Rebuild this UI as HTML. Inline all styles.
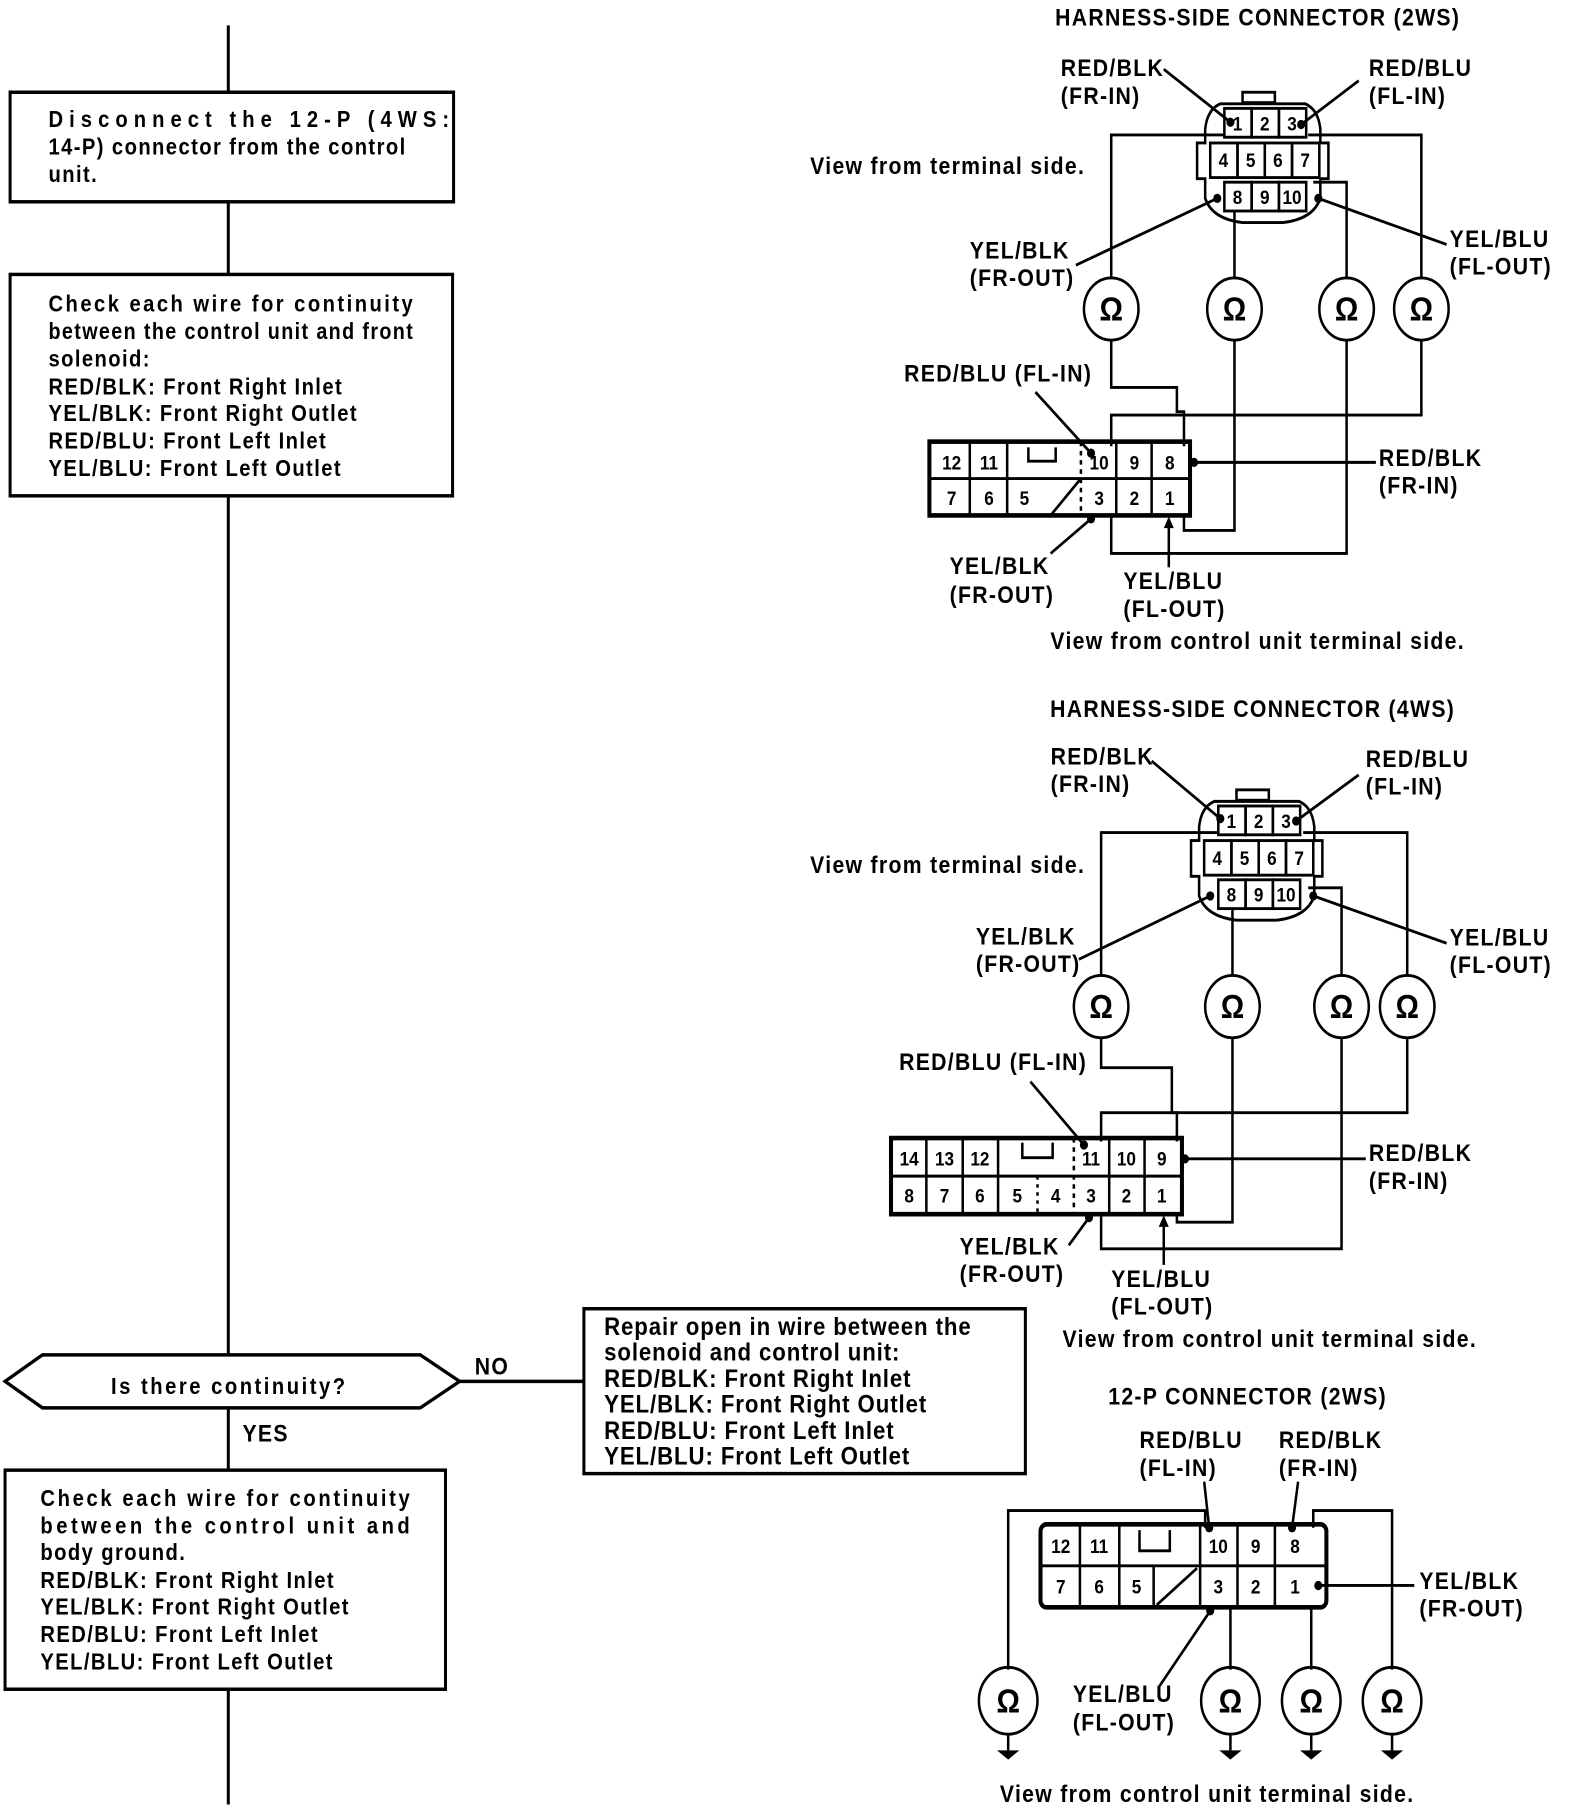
<!DOCTYPE html>
<html><head><meta charset="utf-8"><style>
html,body{margin:0;padding:0;background:#fff;}
svg{display:block;}
text{font-family:"Liberation Sans",sans-serif;font-weight:bold;fill:#000;}
.l{font-size:21px;letter-spacing:1.3px;}
.f{font-size:20px;letter-spacing:1.4px;}
.r{font-size:22px;letter-spacing:0.9px;}
.n{font-size:17px;text-anchor:middle;}
.o{font-size:29px;text-anchor:middle;}
</style></head><body>
<svg width="1584" height="1808" viewBox="0 0 1568 1568" preserveAspectRatio="none" xmlns="http://www.w3.org/2000/svg">
<g fill="none" stroke="#000" stroke-width="3">
<line x1="226" y1="22" x2="226" y2="80"/>
<rect x="10" y="80" width="439" height="95"/>
<line x1="226" y1="175" x2="226" y2="238"/>
<rect x="10" y="238" width="438" height="192"/>
<line x1="226" y1="430" x2="226" y2="1175"/>
<polygon points="5,1198 42,1175 416,1175 455,1198 416,1221 42,1221"/>
<line x1="455" y1="1198" x2="578" y2="1198"/>
<rect x="578" y="1135" width="437" height="143"/>
<line x1="226" y1="1221" x2="226" y2="1275"/>
<rect x="5" y="1275" width="436" height="190"/>
<line x1="226" y1="1465" x2="226" y2="1565"/>
</g>
<text class="f" x="48" y="110" textLength="398" lengthAdjust="spacing">Disconnect the 12-P (4WS:</text>
<text class="f" x="48" y="134">14-P) connector from the control</text>
<text class="f" x="48" y="158">unit.</text>
<text class="f" x="48" y="270" textLength="362" lengthAdjust="spacing">Check each wire for continuity</text>
<text class="f" x="48" y="294" textLength="362" lengthAdjust="spacingAndGlyphs">between the control unit and front</text>
<text class="f" x="48" y="318">solenoid:</text>
<text class="f" x="48" y="342">RED/BLK: Front Right Inlet</text>
<text class="f" x="48" y="365">YEL/BLK: Front Right Outlet</text>
<text class="f" x="48" y="389">RED/BLU: Front Left Inlet</text>
<text class="f" x="48" y="413">YEL/BLU: Front Left Outlet</text>
<text class="f" x="227" y="1209" text-anchor="middle" style="letter-spacing:2.5px">Is there continuity?</text>
<text class="l" x="470" y="1192">NO</text>
<text class="l" x="240" y="1250">YES</text>
<text class="r" x="598" y="1158">Repair open in wire between the</text>
<text class="r" x="598" y="1180">solenoid and control unit:</text>
<text class="r" x="598" y="1203">RED/BLK: Front Right Inlet</text>
<text class="r" x="598" y="1225">YEL/BLK: Front Right Outlet</text>
<text class="r" x="598" y="1248">RED/BLU: Front Left Inlet</text>
<text class="r" x="598" y="1270">YEL/BLU: Front Left Outlet</text>
<text class="f" x="40" y="1306" textLength="367" lengthAdjust="spacing">Check each wire for continuity</text>
<text class="f" x="40" y="1330" textLength="367" lengthAdjust="spacing">between the control unit and</text>
<text class="f" x="40" y="1353">body ground.</text>
<text class="f" x="40" y="1377">RED/BLK: Front Right Inlet</text>
<text class="f" x="40" y="1400">YEL/BLK: Front Right Outlet</text>
<text class="f" x="40" y="1424">RED/BLU: Front Left Inlet</text>
<text class="f" x="40" y="1448">YEL/BLU: Front Left Outlet</text>

<defs>
<g id="hc" fill="none" stroke="#000" stroke-width="2.5">
<rect x="1230" y="80" width="32" height="9"/>
<path d="M1208,90 Q1195,95 1193,112 L1193,124 L1185,124 L1185,155 L1193,155 L1193,172 Q1200,190 1230,193 L1270,193 Q1300,190 1307,172 L1307,155 L1315,155 L1315,124 L1307,124 L1307,112 Q1305,95 1292,90 Z"/>
<rect x="1212" y="94" width="27" height="25"/><rect x="1239" y="94" width="27" height="25"/><rect x="1266" y="94" width="27" height="25"/>
<rect x="1198" y="124" width="27" height="30"/><rect x="1225" y="124" width="27" height="30"/><rect x="1252" y="124" width="27" height="30"/><rect x="1279" y="124" width="27" height="30"/>
<rect x="1212" y="158" width="27" height="25"/><rect x="1239" y="158" width="27" height="25"/><rect x="1266" y="158" width="27" height="25"/>
</g>
</defs>

<!-- Diagram 1 -->
<text class="l" x="1245" y="22" text-anchor="middle">HARNESS-SIDE CONNECTOR (2WS)</text>
<use href="#hc"/>
<text class="n" x="1225" y="113">1</text><text class="n" x="1252" y="113">2</text><text class="n" x="1279" y="113">3</text>
<text class="n" x="1211" y="145">4</text><text class="n" x="1238" y="145">5</text><text class="n" x="1265" y="145">6</text><text class="n" x="1292" y="145">7</text>
<text class="n" x="1225" y="177">8</text><text class="n" x="1252" y="177">9</text><text class="n" x="1279" y="177">10</text>
<text class="l" x="1050" y="66">RED/BLK</text><text class="l" x="1050" y="90">(FR-IN)</text>
<text class="l" x="1355" y="66">RED/BLU</text><text class="l" x="1355" y="90">(FL-IN)</text>
<text class="l" x="802" y="151">View from terminal side.</text>
<text class="l" x="960" y="224">YEL/BLK</text><text class="l" x="960" y="248">(FR-OUT)</text>
<text class="l" x="1435" y="214">YEL/BLU</text><text class="l" x="1435" y="238">(FL-OUT)</text>
<g fill="none" stroke="#000" stroke-width="2.5">
<line x1="1152" y1="60" x2="1218" y2="106"/>
<line x1="1345" y1="70" x2="1288" y2="108"/>
<line x1="1065" y1="230" x2="1205" y2="172"/>
<line x1="1432" y1="212" x2="1305" y2="172"/>
<polyline points="1212,117 1100,117 1100,241"/>
<line x1="1222" y1="183" x2="1222" y2="241"/>
<polyline points="1300,158 1333,158 1333,241"/>
<polyline points="1295,117 1407,117 1407,241"/>
<circle cx="1100" cy="268" r="27"/><circle cx="1222" cy="268" r="27"/><circle cx="1333" cy="268" r="27"/><circle cx="1407" cy="268" r="27"/>
<polyline points="1100,295 1100,336 1165,336 1165,357 1172,357 1172,387"/>
<polyline points="1222,295 1222,460 1172,460 1172,447"/>
<polyline points="1333,295 1333,480 1100,480 1100,447"/>
<polyline points="1407,295 1407,360 1100,360 1100,387"/>
<rect x="920" y="383" width="258" height="64" stroke-width="4"/>
<line x1="920" y1="415" x2="1178" y2="415"/>
<line x1="960" y1="383" x2="960" y2="447"/><line x1="997" y1="383" x2="997" y2="447"/>
<line x1="1070" y1="383" x2="1070" y2="447" stroke-dasharray="4,4"/>
<line x1="1105" y1="383" x2="1105" y2="447"/><line x1="1140" y1="383" x2="1140" y2="447"/>
<line x1="1040" y1="447" x2="1070" y2="415"/>
<polyline points="1018,388 1018,400 1045,400 1045,388"/>
<line x1="1025" y1="340" x2="1080" y2="393"/>
<line x1="1362" y1="401" x2="1182" y2="401"/>
<line x1="1040" y1="480" x2="1080" y2="450"/>
<line x1="1157" y1="492" x2="1157" y2="450"/>
</g>
<g fill="#000">
<circle cx="1218" cy="106" r="4"/><circle cx="1288" cy="108" r="4"/><circle cx="1205" cy="172" r="4"/><circle cx="1305" cy="172" r="4"/>
<circle cx="1080" cy="393" r="4"/><circle cx="1182" cy="401" r="4"/><circle cx="1080" cy="450" r="4"/><path d="M1152,458 l5,-10 l5,10 z"/>
</g>
<text class="n" x="942" y="407">12</text><text class="n" x="979" y="407">11</text><text class="n" x="1088" y="407">10</text><text class="n" x="1123" y="407">9</text><text class="n" x="1158" y="407">8</text>
<text class="n" x="942" y="438">7</text><text class="n" x="979" y="438">6</text><text class="n" x="1014" y="438">5</text><text class="n" x="1088" y="438">3</text><text class="n" x="1123" y="438">2</text><text class="n" x="1158" y="438">1</text>
<text class="o" x="1100" y="278">Ω</text><text class="o" x="1222" y="278">Ω</text><text class="o" x="1333" y="278">Ω</text><text class="o" x="1407" y="278">Ω</text>
<text class="l" x="895" y="331">RED/BLU (FL-IN)</text>
<text class="l" x="1365" y="404">RED/BLK</text><text class="l" x="1365" y="428">(FR-IN)</text>
<text class="l" x="940" y="498">YEL/BLK</text><text class="l" x="940" y="523">(FR-OUT)</text>
<text class="l" x="1112" y="511">YEL/BLU</text><text class="l" x="1112" y="535">(FL-OUT)</text>
<text class="l" x="1245" y="563" text-anchor="middle">View from control unit terminal side.</text>

<!-- Diagram 2 -->
<text class="l" x="1240" y="622" text-anchor="middle">HARNESS-SIDE CONNECTOR (4WS)</text>
<use href="#hc" transform="translate(-6,605)"/>
<text class="n" x="1219" y="718">1</text><text class="n" x="1246" y="718">2</text><text class="n" x="1273" y="718">3</text>
<text class="n" x="1205" y="750">4</text><text class="n" x="1232" y="750">5</text><text class="n" x="1259" y="750">6</text><text class="n" x="1286" y="750">7</text>
<text class="n" x="1219" y="782">8</text><text class="n" x="1246" y="782">9</text><text class="n" x="1273" y="782">10</text>
<text class="l" x="1040" y="663">RED/BLK</text><text class="l" x="1040" y="687">(FR-IN)</text>
<text class="l" x="1352" y="665">RED/BLU</text><text class="l" x="1352" y="689">(FL-IN)</text>
<text class="l" x="802" y="757">View from terminal side.</text>
<text class="l" x="966" y="819">YEL/BLK</text><text class="l" x="966" y="843">(FR-OUT)</text>
<text class="l" x="1435" y="820">YEL/BLU</text><text class="l" x="1435" y="844">(FL-OUT)</text>
<g fill="none" stroke="#000" stroke-width="2.5">
<line x1="1140" y1="660" x2="1208" y2="710"/>
<line x1="1345" y1="672" x2="1283" y2="712"/>
<line x1="1068" y1="832" x2="1198" y2="777"/>
<line x1="1432" y1="818" x2="1300" y2="777"/>
<polyline points="1206,722 1090,722 1090,846"/>
<line x1="1220" y1="788" x2="1220" y2="846"/>
<polyline points="1295,770 1328,770 1328,846"/>
<polyline points="1290,722 1393,722 1393,846"/>
<circle cx="1090" cy="873" r="27"/><circle cx="1220" cy="873" r="27"/><circle cx="1328" cy="873" r="27"/><circle cx="1393" cy="873" r="27"/>
<polyline points="1090,900 1090,926 1160,926 1160,965 1165,965 1165,990"/>
<polyline points="1220,900 1220,1060 1165,1060 1165,1053"/>
<polyline points="1328,900 1328,1083 1090,1083 1090,1053"/>
<polyline points="1393,900 1393,965 1090,965 1090,990"/>
<rect x="882" y="987" width="288" height="66" stroke-width="4"/>
<line x1="882" y1="1020" x2="1170" y2="1020"/>
<line x1="917" y1="987" x2="917" y2="1053"/><line x1="953" y1="987" x2="953" y2="1053"/><line x1="988" y1="987" x2="988" y2="1053"/>
<line x1="1063" y1="987" x2="1063" y2="1053" stroke-dasharray="4,4"/>
<line x1="1027" y1="1020" x2="1027" y2="1053" stroke-dasharray="3,4"/>
<line x1="1098" y1="987" x2="1098" y2="1053"/><line x1="1133" y1="987" x2="1133" y2="1053"/>
<polyline points="1012,991 1012,1004 1042,1004 1042,991"/>
<line x1="1020" y1="938" x2="1073" y2="993"/>
<line x1="1352" y1="1005" x2="1173" y2="1005"/>
<line x1="1058" y1="1080" x2="1078" y2="1056"/>
<line x1="1152" y1="1097" x2="1152" y2="1056"/>
</g>
<g fill="#000">
<circle cx="1208" cy="710" r="4"/><circle cx="1283" cy="712" r="4"/><circle cx="1198" cy="777" r="4"/><circle cx="1300" cy="777" r="4"/>
<circle cx="1073" cy="993" r="4"/><circle cx="1173" cy="1005" r="4"/><circle cx="1078" cy="1056" r="4"/><path d="M1147,1064 l5,-10 l5,10 z"/>
</g>
<text class="n" x="900" y="1011">14</text><text class="n" x="935" y="1011">13</text><text class="n" x="970" y="1011">12</text><text class="n" x="1080" y="1011">11</text><text class="n" x="1115" y="1011">10</text><text class="n" x="1150" y="1011">9</text>
<text class="n" x="900" y="1043">8</text><text class="n" x="935" y="1043">7</text><text class="n" x="970" y="1043">6</text><text class="n" x="1007" y="1043">5</text><text class="n" x="1045" y="1043">4</text><text class="n" x="1080" y="1043">3</text><text class="n" x="1115" y="1043">2</text><text class="n" x="1150" y="1043">1</text>
<text class="o" x="1090" y="883">Ω</text><text class="o" x="1220" y="883">Ω</text><text class="o" x="1328" y="883">Ω</text><text class="o" x="1393" y="883">Ω</text>
<text class="l" x="890" y="928">RED/BLU (FL-IN)</text>
<text class="l" x="1355" y="1007">RED/BLK</text><text class="l" x="1355" y="1031">(FR-IN)</text>
<text class="l" x="950" y="1088">YEL/BLK</text><text class="l" x="950" y="1112">(FR-OUT)</text>
<text class="l" x="1100" y="1116">YEL/BLU</text><text class="l" x="1100" y="1140">(FL-OUT)</text>
<text class="l" x="1257" y="1168" text-anchor="middle">View from control unit terminal side.</text>

<!-- Diagram 3 -->
<text class="l" x="1235" y="1218" text-anchor="middle">12-P CONNECTOR (2WS)</text>
<text class="l" x="1128" y="1256">RED/BLU</text><text class="l" x="1128" y="1280">(FL-IN)</text>
<text class="l" x="1266" y="1256">RED/BLK</text><text class="l" x="1266" y="1280">(FR-IN)</text>
<g fill="none" stroke="#000" stroke-width="2.5">
<rect x="1030" y="1322" width="283" height="72" rx="6" stroke-width="4"/>
<line x1="1030" y1="1358" x2="1313" y2="1358"/>
<line x1="1069" y1="1322" x2="1069" y2="1394"/><line x1="1108" y1="1322" x2="1108" y2="1394"/>
<line x1="1188" y1="1322" x2="1188" y2="1394"/><line x1="1225" y1="1322" x2="1225" y2="1394"/><line x1="1262" y1="1322" x2="1262" y2="1394"/>
<line x1="1142" y1="1358" x2="1142" y2="1394"/>
<line x1="1145" y1="1392" x2="1185" y2="1360"/>
<polyline points="1128,1327 1128,1345 1158,1345 1158,1327"/>
<polyline points="998,1448 998,1310 1193,1310 1193,1325"/>
<polyline points="1300,1325 1300,1310 1378,1310 1378,1448"/>
<line x1="1218" y1="1394" x2="1218" y2="1448"/>
<line x1="1298" y1="1394" x2="1298" y2="1448"/>
<circle cx="998" cy="1475" r="29"/><circle cx="1218" cy="1475" r="29"/><circle cx="1298" cy="1475" r="29"/><circle cx="1378" cy="1475" r="29"/>
<line x1="998" y1="1504" x2="998" y2="1518"/><line x1="1218" y1="1504" x2="1218" y2="1518"/><line x1="1298" y1="1504" x2="1298" y2="1518"/><line x1="1378" y1="1504" x2="1378" y2="1518"/>
<line x1="1192" y1="1285" x2="1197" y2="1325"/>
<line x1="1285" y1="1285" x2="1279" y2="1325"/>
<line x1="1400" y1="1375" x2="1305" y2="1375"/>
<line x1="1148" y1="1462" x2="1198" y2="1397"/>
</g>
<g fill="#000">
<path d="M987,1518 h22 l-11,8 z"/><path d="M1207,1518 h22 l-11,8 z"/><path d="M1287,1518 h22 l-11,8 z"/><path d="M1367,1518 h22 l-11,8 z"/>
<circle cx="1197" cy="1325" r="4"/><circle cx="1279" cy="1325" r="4"/><circle cx="1305" cy="1375" r="4"/><circle cx="1198" cy="1397" r="4"/>
</g>
<text class="n" x="1050" y="1347">12</text><text class="n" x="1088" y="1347">11</text><text class="n" x="1206" y="1347">10</text><text class="n" x="1243" y="1347">9</text><text class="n" x="1282" y="1347">8</text>
<text class="n" x="1050" y="1382">7</text><text class="n" x="1088" y="1382">6</text><text class="n" x="1125" y="1382">5</text><text class="n" x="1206" y="1382">3</text><text class="n" x="1243" y="1382">2</text><text class="n" x="1282" y="1382">1</text>
<text class="o" x="998" y="1485">Ω</text><text class="o" x="1218" y="1485">Ω</text><text class="o" x="1298" y="1485">Ω</text><text class="o" x="1378" y="1485">Ω</text>
<text class="l" x="1405" y="1378">YEL/BLK</text><text class="l" x="1405" y="1402">(FR-OUT)</text>
<text class="l" x="1062" y="1476">YEL/BLU</text><text class="l" x="1062" y="1501">(FL-OUT)</text>
<text class="l" x="1195" y="1563" text-anchor="middle">View from control unit terminal side.</text>
</svg>
</body></html>
